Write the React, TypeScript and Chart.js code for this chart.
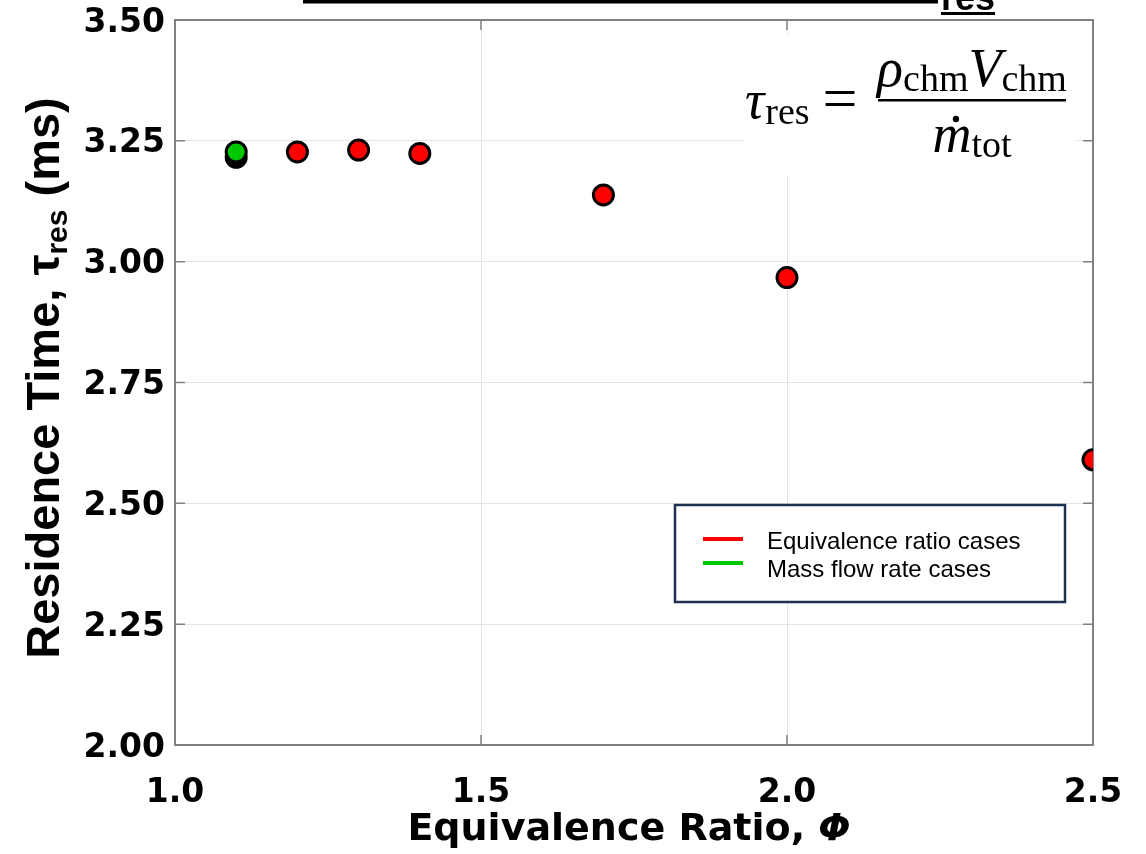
import { useEffect, useRef } from "react";
import { Chart, registerables } from "chart.js";

Chart.register(...registerables);

// Axis ticks
const xTickValues = [1.0, 1.5, 2.0, 2.5];
const yTickValues = [2.0, 2.25, 2.5, 2.75, 3.0, 3.25, 3.5];

// Equivalence ratio sweep
const phiEquivalence = [1.2, 1.3, 1.4, 1.7, 2.0, 2.5];
const tauEquivalence = [3.227, 3.231, 3.224, 3.138, 2.967, 2.59];

// Mass flow rate sweep
const phiMassFlow = [1.1];
const tauMassFlow = [3.227];

// Reference operating point
const phiReference = [1.1];
const tauReference = [3.216];

const seriesLabels = ["Equivalence ratio cases", "Mass flow rate cases", "Reference case"];
const seriesColors = ["#ff0000", "#00c800", "#000000"];

const SANS = '"Liberation Sans", Arial, sans-serif';
const DEJAVU = '"DejaVu Sans", Verdana, sans-serif';
const SERIF = '"Liberation Serif", "Times New Roman", serif';

const toPoints = (xs: number[], ys: number[]) => xs.map((x, i) => ({ x, y: ys[i] }));

// Frame with inward ticks on all four sides
const framePlugin = {
  id: "frame",
  beforeDatasetsDraw(chart: any) {
    const { ctx, chartArea, scales } = chart;
    const { left, right, top, bottom } = chartArea;
    ctx.save();
    ctx.strokeStyle = "#808080";
    ctx.lineWidth = 1.5;
    ctx.beginPath();
    for (const v of xTickValues) {
      const px = scales.x.getPixelForValue(v);
      ctx.moveTo(px, bottom);
      ctx.lineTo(px, bottom - 10);
      ctx.moveTo(px, top);
      ctx.lineTo(px, top + 10);
    }
    for (const v of yTickValues) {
      const py = scales.y.getPixelForValue(v);
      ctx.moveTo(left, py);
      ctx.lineTo(left + 10, py);
      ctx.moveTo(right, py);
      ctx.lineTo(right - 10, py);
    }
    ctx.stroke();
    ctx.lineWidth = 2;
    ctx.strokeRect(left, top, right - left, bottom - top);
    ctx.restore();
  },
};

// Residence time definition, typeset inline
const formulaPlugin = {
  id: "formula",
  beforeDatasetsDraw(chart: any) {
    const { ctx } = chart;
    ctx.save();
    ctx.fillStyle = "#ffffff";
    ctx.fillRect(743, 34, 332, 143);
    ctx.fillStyle = "#000000";
    ctx.textAlign = "left";
    ctx.textBaseline = "alphabetic";
    const main = `italic 54px ${SERIF}`;
    const sub = `38px ${SERIF}`;

    // left-hand side
    ctx.font = main;
    ctx.fillText("τ", 745, 118);
    const wTau = ctx.measureText("τ").width;
    ctx.font = sub;
    ctx.fillText("res", 745 + wTau + 1, 124);

    // equals sign
    ctx.font = `62px ${SERIF}`;
    ctx.textAlign = "center";
    ctx.fillText("=", 840, 119);
    ctx.textAlign = "left";

    // fraction bar
    const cx = 972;
    ctx.fillRect(878, 99, 188, 2.5);

    const drawRun = (parts: [string, string, number][], baseline: number) => {
      let total = 0;
      const widths = parts.map(([t, f]) => {
        ctx.font = f;
        const w = ctx.measureText(t).width;
        total += w;
        return w;
      });
      let x = cx - total / 2;
      const starts: number[] = [];
      parts.forEach(([t, f, dy], i) => {
        ctx.font = f;
        starts.push(x);
        ctx.fillText(t, x, baseline + dy);
        x += widths[i];
      });
      return { starts, widths };
    };

    drawRun(
      [
        ["ρ", main, 0],
        ["chm", sub, 5],
        ["V", main, 0],
        ["chm", sub, 5],
      ],
      86
    );
    const den = drawRun(
      [
        ["m", main, 0],
        ["tot", sub, 5],
      ],
      152
    );
    // dot over the mass flow symbol
    ctx.beginPath();
    ctx.arc(den.starts[0] + den.widths[0] / 2 + 4, 119, 3.2, 0, Math.PI * 2);
    ctx.fill();
    ctx.restore();
  },
};

// Boxed legend inside the plot area
const legendPlugin = {
  id: "boxLegend",
  beforeDatasetsDraw(chart: any) {
    const { ctx } = chart;
    ctx.save();
    ctx.fillStyle = "#ffffff";
    ctx.fillRect(675, 505, 390, 97);
    ctx.strokeStyle = "#1f2f4f";
    ctx.lineWidth = 2.5;
    ctx.strokeRect(675, 505, 390, 97);
    const rows = [
      { lineY: 539, textY: 542 },
      { lineY: 563, textY: 570 },
    ];
    rows.forEach((r, i) => {
      const ds = chart.data.datasets[i];
      ctx.strokeStyle = ds.backgroundColor;
      ctx.lineWidth = 4;
      ctx.beginPath();
      ctx.moveTo(703, r.lineY);
      ctx.lineTo(743, r.lineY);
      ctx.stroke();
      ctx.fillStyle = "#000000";
      ctx.font = `24px ${SANS}`;
      ctx.textAlign = "left";
      ctx.textBaseline = "middle";
      ctx.fillText(ds.label, 767, r.textY);
    });
    ctx.restore();
  },
};

// Axis titles with sub/italic runs, plus the clipped heading above the plot
const titlesPlugin = {
  id: "titles",
  afterDraw(chart: any) {
    const { ctx } = chart;
    ctx.save();
    ctx.fillStyle = "#000000";
    ctx.textBaseline = "alphabetic";
    ctx.textAlign = "left";

    // y-axis title
    ctx.translate(59, 378);
    ctx.rotate(-Math.PI / 2);
    const big = `bold 47px ${SANS}`;
    const small = `bold 30px ${SANS}`;
    const yParts: [string, string, number][] = [
      ["Residence Time, τ", big, 0],
      ["res", small, 8],
      [" (ms)", big, 0],
    ];
    let total = 0;
    const ws = yParts.map(([t, f]) => {
      ctx.font = f;
      const w = ctx.measureText(t).width;
      total += w;
      return w;
    });
    let x = -total / 2;
    yParts.forEach(([t, f, dy], i) => {
      ctx.font = f;
      ctx.fillText(t, x, dy);
      x += ws[i];
    });
    ctx.setTransform(1, 0, 0, 1, 0, 0);

    // x-axis title
    const xa = "Equivalence Ratio, ";
    const xb = "Φ";
    ctx.font = `bold 38px ${DEJAVU}`;
    const wa = ctx.measureText(xa).width;
    ctx.font = `bold italic 38px ${DEJAVU}`;
    const wb = ctx.measureText(xb).width;
    const sx = 629 - (wa + wb) / 2;
    ctx.font = `bold 38px ${DEJAVU}`;
    ctx.fillText(xa, sx, 840);
    ctx.font = `bold italic 38px ${DEJAVU}`;
    ctx.fillText(xb, sx + wa, 840);

    // heading running off the top edge
    ctx.fillRect(303, 0, 635, 3.5);
    ctx.font = `bold 36px ${SANS}`;
    ctx.fillText("res", 941, 10);
    ctx.fillRect(941, 12, 54, 3);
    ctx.restore();
  },
};

export default function App() {
  const canvasRef = useRef<HTMLCanvasElement | null>(null);

  useEffect(() => {
    document.body.style.margin = "0";
    const canvas = canvasRef.current;
    if (!canvas) return;

    const pointStyle = {
      pointRadius: 10,
      pointHoverRadius: 10,
      pointBorderWidth: 3,
      borderColor: "#000000",
      showLine: false,
    };

    const chart = new Chart(canvas, {
      type: "scatter",
      data: {
        datasets: [
          {
            label: seriesLabels[0],
            data: toPoints(phiEquivalence, tauEquivalence),
            backgroundColor: seriesColors[0],
            order: 1,
            ...pointStyle,
          },
          {
            label: seriesLabels[1],
            data: toPoints(phiMassFlow, tauMassFlow),
            backgroundColor: seriesColors[1],
            order: 0,
            ...pointStyle,
          },
          {
            label: seriesLabels[2],
            data: toPoints(phiReference, tauReference),
            backgroundColor: seriesColors[2],
            order: 2,
            ...pointStyle,
          },
        ],
      },
      options: {
        animation: false,
        responsive: false,
        devicePixelRatio: 1,
        events: [],
        layout: { padding: { top: 20, right: 53, bottom: 0, left: 0 } },
        plugins: {
          legend: { display: false },
          tooltip: { enabled: false },
        },
        scales: {
          x: {
            type: "linear",
            min: 1.0,
            max: 2.5,
            afterBuildTicks: (s: any) => {
              s.ticks = xTickValues.map((value) => ({ value }));
            },
            afterFit: (s: any) => {
              s.height = 109;
            },
            ticks: {
              padding: 3,
              color: "#000000",
              font: { family: DEJAVU, size: 33, weight: "bold", lineHeight: 2.73 },
              callback: (v: any) => Number(v).toFixed(1),
              maxRotation: 0,
            },
            grid: { color: "#e4e4e4", lineWidth: 1, drawTicks: false },
            border: { display: false },
          },
          y: {
            type: "linear",
            min: 2.0,
            max: 3.5,
            afterBuildTicks: (s: any) => {
              s.ticks = yTickValues.map((value) => ({ value }));
            },
            afterFit: (s: any) => {
              s.width = 175;
            },
            ticks: {
              padding: 10,
              labelOffset: 3,
              color: "#000000",
              font: { family: DEJAVU, size: 33, weight: "bold", lineHeight: 0.5 },
              callback: (v: any) => Number(v).toFixed(2),
            },
            grid: { color: "#e4e4e4", lineWidth: 1, drawTicks: false },
            border: { display: false },
          },
        },
      },
      plugins: [framePlugin, formulaPlugin, legendPlugin, titlesPlugin],
    });

    return () => chart.destroy();
  }, []);

  return (
    <div style={{ width: 1146, height: 854, background: "#ffffff" }}>
      <canvas ref={canvasRef} width={1146} height={854} style={{ display: "block" }} />
    </div>
  );
}
